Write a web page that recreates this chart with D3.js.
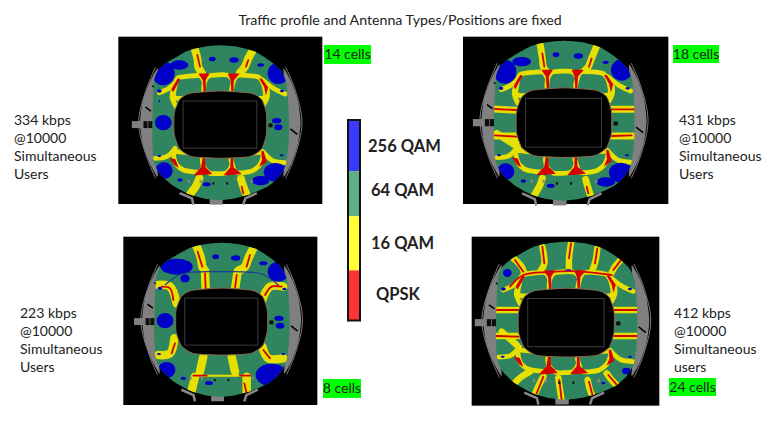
<!DOCTYPE html>
<html><head><meta charset="utf-8">
<script src="https://cdn.jsdelivr.net/npm/d3@7"></script>
<style>html,body{margin:0;background:#fff}svg{display:block}text{font-family:Lato,sans-serif;fill:#222}</style>
</head><body><svg id="c" width="780" height="434"></svg>
<script>
const titleText = "Traffic profile and Antenna Types/Positions are fixed";
const legendLabels = ["256 QAM","64 QAM","16 QAM","QPSK"];
const legendColors = ["#3a3aff","#5fae84","#ffff33","#ff3333"];
const legendEdges = [0,25.5,48,75,100];

// stadium outlines in unit coordinates (-100..100)
const fieldOutline = [[-1,-100],[25,-98],[50,-92],[72,-80],[88,-67],[96,-52],[99,-25],[100,3],[99,30],[95,55],[85,70],[70,82],[45,92],[20,98],[-1,100],[-25,98],[-48,92],[-72,80],[-90,65],[-98,50],[-100,25],[-100,0],[-99,-30],[-97,-56],[-91,-68],[-78,-78],[-48,-93],[-25,-98]];
const holeOutline = [[0,-41],[45,-38],[60,-30],[67,-12],[67,15],[60,34],[42,44],[0,46],[-42,44],[-60,34],[-68,15],[-68,-12],[-60,-30],[-45,-38]];
const pitchBox = [-55,-28,53,33];
const standLeft = [[-92,-70],[-104,-52],[-114,-28],[-118,0],[-114,28],[-104,52],[-92,70],[-95,40],[-98,0],[-95,-40]];
const standRight = [[92,-70],[104,-52],[113,-28],[117,0],[113,28],[104,52],[92,70],[95,40],[98,0],[95,-40]];
const ringLeft = [[-95,-72],[-108,-45],[-120,0],[-108,45],[-95,72]];
const ringRight = [[95,-72],[108,-45],[119,0],[108,45],[95,72]];
const tab = [-130,-2,-100,7];
const standBlocksDark = [[-113,-2,-107,7],[-106,-2,-100,7],[70,1,76,6],[-12,77,-9,80],[8,77,11,80]];
const standBlocksGrey = [[-48,74,-45,78],[-31,74,-28,78],[44,74,47,78]];
const standTicks = [[[-110,-20],[-102,-15]],[[-98,42],[-90,45]],[[102,8],[112,15]],[[-100,-48],[-96,-45]]];
const basePlate = [[-60,91],[-42,98],[-40,106]];
const basePlate2 = [[53,91],[36,98],[33,106]];
const baseBar = [-16,98,3,106];

// inner tier, shared by the panels with many cells (reference grid = 14-cell panel)
const innerCells = [
 [[205,143],[268,137],[284,160],[288,198],[196,204],[195,168]],
 [[298,137],[352,135],[370,155],[366,198],[287,198],[283,158]],
 [[385,136],[445,141],[462,168],[460,204],[368,198],[370,155]],
 [[195,365],[280,378],[284,400],[268,426],[220,420],[197,400]],
 [[282,378],[364,378],[366,404],[350,428],[300,430],[280,408]],
 [[367,378],[456,368],[450,404],[424,424],[380,428],[367,404]]];
const innerArms = [
 [[205,150],[175,176],[148,188]],[[190,178],[186,200],[197,228]],
 [[458,150],[490,175],[525,192]],[[472,180],[472,200],[462,222]],
 [[195,355],[170,380],[135,385]],
 [[458,365],[488,392],[525,398]]];
const innerRed = [
 [[266,131],[298,131],[287,150],[288,186],[281,186],[278,150]],
 [[354,131],[388,131],[372,150],[370,184],[364,184],[362,150]],
 [[203,146],[210,148],[190,186],[184,178]],
 [[448,146],[456,146],[474,172],[468,196],[462,170]],
 [[278,384],[285,384],[287,412],[306,432],[252,436],[273,412]],
 [[362,384],[369,384],[371,412],[394,432],[342,436],[361,412]],
 [[454,364],[461,364],[470,396],[448,410],[456,390]],
 [[196,388],[206,413],[194,406],[180,385]]];

// measured in each panel's own picture grid (3 units = 1 image px)
const yellow14 = [
 [[252,50],[262,85],[265,110],[275,128]],[[430,58],[415,85],[405,110],[390,128]],
 [[240,492],[258,468],[268,445]],[[412,500],[400,470],[393,447]]];
const red14 = [[[262,75],[270,110]],[[415,90],[408,110]],[[395,470],[400,490]]];
const blue14 = [[160,130,34,36],[208,105,27,14],[307,87,10,7],[372,90,14,8],[452,105,10,5],[505,130,32,32],
 [160,278,25,23],[500,272,14,8],[505,292,12,9],[162,422,26,25],[497,427,36,28],[452,452,26,14],[290,463,12,6],[210,450,8,5],[148,183,7,5],[516,183,6,4],[148,214,3,3],[148,378,6,3],[515,376,6,3]];

const yellow18 = [
 [[255,40],[262,85],[265,110],[275,125]],[[425,48],[410,85],[400,110],[385,125]],
 [[118,237],[185,241]],[[118,318],[185,318]],[[470,238],[540,238]],[[470,318],[540,318]],
 [[125,310],[180,345]],[[180,320],[190,365]],
 [[238,495],[255,465],[262,445]],[[408,500],[398,470],[392,448]]];
const red18 = [
 [[262,70],[268,110]],[[410,85],[402,110]],[[118,237],[185,240]],[[470,238],[540,238]],[[120,316],[185,320]],[[470,318],[530,316]],[[395,470],[400,490]]];
const blue18 = [[150,125,34,36],[200,95,28,14],[303,74,10,7],[370,78,14,8],[452,97,9,5],[500,120,32,32],
 [152,425,26,25],[498,428,36,30],[452,456,28,14],[287,467,12,6],[205,453,8,5],[138,175,7,5],[518,175,6,4],[132,376,6,3],[516,376,6,3]];

const yellow8 = [
 [[245,50],[258,85],[262,110],[270,122]],[[415,55],[400,85],[390,110],[370,122]],
 [[270,125],[272,178]],[[368,125],[360,178]],
 [[130,165],[165,170],[185,220]],[[505,170],[465,170],[440,215]],
 [[178,325],[165,370],[130,375]],[[442,350],[460,385],[505,385]],
 [[265,380],[255,425]],[[350,380],[360,425]],
 [[240,440],[228,490]],[[395,440],[395,495]]];
const red8 = [[[248,65],[262,110]],[[405,75],[395,110]],[[270,130],[272,175]],[[365,135],[360,175]],
 [[450,195],[470,170],[500,170]],[[175,210],[165,175],[140,170]],[[180,340],[170,370]],[[445,360],[465,385]],[[235,437],[275,437]],[[375,437],[405,437]],[[388,460],[395,490]]];
const blue8 = [[185,110,48,24],[210,145,14,12],[302,80,10,7],[362,84,14,8],[445,100,12,6],[490,125,32,30],
 [150,272,25,23],[492,265,14,8],[495,287,13,9],[155,420,26,24],[470,435,48,34],[282,459,12,6],[205,445,8,5],[135,175,7,5],[508,177,6,4],[132,372,6,3],[505,372,6,3]];
const thinBlue8 = [[[150,165],[200,132],[320,125],[440,132],[490,165]]];
const thinYellow8 = [[[240,437],[400,437]]];

const yellow24 = [
 [[145,85],[170,110],[178,130]],[[232,50],[238,100],[225,125]],[[318,40],[312,85],[312,118]],[[397,55],[392,90],[382,122]],[[472,85],[450,110],[440,128]],
 [[95,240],[160,240]],[[95,318],[160,318]],[[445,240],[515,240]],[[445,318],[515,318]],
 [[110,305],[155,345]],
 [[148,460],[170,440],[195,425]],[[210,492],[222,465],[235,440]],[[290,512],[285,480],[280,445]],[[385,505],[375,480],[368,450]],[[462,472],[440,450],[425,430]]];
const red24 = [
 [[232,50],[238,100]],[[318,40],[312,85]],[[397,55],[390,100]],[[472,85],[445,120]],[[150,90],[175,125]],
 [[135,170],[175,135],[250,126],[342,124],[440,135]],
 [[95,240],[160,240]],[[445,240],[515,240]],[[95,318],[160,320]],[[445,318],[515,318]],
 [[215,490],[235,440]],[[290,510],[283,450]],[[385,505],[372,455]],[[460,470],[430,435]]];
const blue24 = [[127,129,13,12],[115,177,7,5],[495,177,6,4],[113,380,6,3],[495,380,6,3],[484,423,13,10],[415,459,6,4],[310,120,10,2]];

const cellPanels = [
 {label:"14 cells",info:["334 kbps","@10000","Simultaneous","Users"],ox:110,oy:30,box:[25,20,637,522],c:[332,278,205,232],yellow:yellow14,red:red14,blue:blue14,tier:true,bw:8,tag:[324,45,47,19],ix:14,iy:120},
 {label:"18 cells",info:["431 kbps","@10000","Simultaneous","Users"],ox:455,oy:30,box:[24,20,640,522],c:[328,272,211,240],yellow:yellow18,red:red18,blue:blue18,tier:true,bw:7,tag:[673,45,46,18],ix:679,iy:120},
 {label:"8 cells",info:["223 kbps","@10000","Simultaneous","Users"],ox:115,oy:230,box:[25,20,607,525],c:[321,269,203,231],yellow:yellow8,red:red8,blue:blue8,tier:false,bw:8.5,thinB:thinBlue8,thinY:thinYellow8,tag:[323,379,38,19],ix:20,iy:313},
 {label:"24 cells",info:["412 kbps","@10000","Simultaneous","users"],ox:465,oy:230,box:[20,20,583,527],c:[305,272,212,237],yellow:yellow24,red:red24,blue:blue24,tier:true,bw:6.5,tag:[669,378,47,18],ix:674,iy:313}
];

const svg = d3.select("#c");
const defs = svg.append("defs");
defs.append("filter").attr("id","soft").append("feGaussianBlur").attr("stdDeviation",0.45);

svg.append("text").attr("x",400).attr("y",25).attr("text-anchor","middle").style("font-size","14.2px").text(titleText);

cellPanels.forEach((p,i)=>{
  const gx = d3.scaleLinear([0,810],[p.ox,p.ox+270]);
  const gy = d3.scaleLinear([0,540],[p.oy,p.oy+180]);
  const ux = d3.scaleLinear([-100,100],[gx(p.c[0]-p.c[2]),gx(p.c[0]+p.c[2])]);
  const uy = d3.scaleLinear([-100,100],[gy(p.c[1]-p.c[3]),gy(p.c[1]+p.c[3])]);
  const tx = d3.scaleLinear([127,537],[gx(p.c[0]-p.c[2]),gx(p.c[0]+p.c[2])]);
  const ty = d3.scaleLinear([46,510],[gy(p.c[1]-p.c[3]),gy(p.c[1]+p.c[3])]);
  const closed = d3.line().x(d=>ux(d[0])).y(d=>uy(d[1])).curve(d3.curveCardinalClosed.tension(0.4));
  const open = d3.line().x(d=>ux(d[0])).y(d=>uy(d[1]));
  const arc = d3.line().x(d=>ux(d[0])).y(d=>uy(d[1])).curve(d3.curveCatmullRom);
  const shape = d3.line().x(d=>tx(d[0])).y(d=>ty(d[1])).curve(d3.curveCardinalClosed.tension(0.35));
  const spike = d3.line().x(d=>tx(d[0])).y(d=>ty(d[1])).curve(d3.curveCardinalClosed.tension(0.8));
  const arm = d3.line().x(d=>tx(d[0])).y(d=>ty(d[1])).curve(d3.curveCatmullRom);
  const band = d3.line().x(d=>gx(d[0])).y(d=>gy(d[1])).curve(d3.curveCatmullRom);
  const box = (sel,b,fill)=>sel.append("rect").attr("x",ux(b[0])).attr("y",uy(b[1])).attr("width",ux(b[2])-ux(b[0])).attr("height",uy(b[3])-uy(b[1])).attr("fill",fill);
  const g = svg.append("g").attr("filter","url(#soft)");
  g.append("rect").attr("x",gx(p.box[0])).attr("y",gy(p.box[1])).attr("width",gx(p.box[2])-gx(p.box[0])).attr("height",gy(p.box[3])-gy(p.box[1])).attr("fill","#000");
  // stands
  [standLeft,standRight].forEach(s=>g.append("path").attr("d",closed(s)).attr("fill","#808080"));
  [ringLeft,ringRight].forEach(s=>g.append("path").attr("d",arc(s)).attr("fill","none").attr("stroke","#7c7c7c").attr("stroke-width",1));
  standTicks.forEach(s=>g.append("path").attr("d",open(s)).attr("stroke","#000").attr("stroke-width",1.6));
  [basePlate,basePlate2].forEach(s=>g.append("path").attr("d",open(s)).attr("fill","none").attr("stroke","#8a8a8a").attr("stroke-width",2.5));
  box(g,baseBar,"#808080");
  box(g,tab,"#808080");
  // field
  const clipId = "clip"+i;
  defs.append("clipPath").attr("id",clipId).append("path").attr("d",closed(fieldOutline));
  g.append("path").attr("d",closed(fieldOutline)).attr("fill","#2f8560");
  const f = g.append("g").attr("clip-path",`url(#${clipId})`);
  f.selectAll(".y").data(p.yellow).join("path").attr("d",band).attr("fill","none").attr("stroke","#e6e000").attr("stroke-width",p.bw).attr("stroke-linecap","round");
  if(p.tier){
    innerArms.forEach(s=>f.append("path").attr("d",arm(s)).attr("fill","none").attr("stroke","#e6e000").attr("stroke-width",4.8).attr("stroke-linecap","round"));
    innerCells.forEach(s=>f.append("path").attr("d",shape(s)).attr("fill","#2f8560").attr("stroke","#e6e000").attr("stroke-width",4.8));
    innerRed.forEach(s=>f.append("path").attr("d",spike(s)).attr("fill","#d50000"));
  }
  if(p.thinY) p.thinY.forEach(s=>f.append("path").attr("d",band(s)).attr("fill","none").attr("stroke","#e6e000").attr("stroke-width",2));
  f.selectAll(".r").data(p.red).join("path").attr("d",band).attr("fill","none").attr("stroke","#d50000").attr("stroke-width",1.8).attr("stroke-linecap","round");
  f.selectAll(".b").data(p.blue).join("ellipse").attr("cx",d=>gx(d[0])).attr("cy",d=>gy(d[1])).attr("rx",d=>d[2]/3).attr("ry",d=>d[3]/3).attr("fill","#0000c8");
  if(p.thinB) p.thinB.forEach(s=>f.append("path").attr("d",band(s)).attr("fill","none").attr("stroke","#1c3c90").attr("stroke-width",1.2));
  standBlocksGrey.forEach(b=>box(g,b,"#8a8a8a"));
  standBlocksDark.forEach(b=>box(g,b,"#111"));
  // bowl
  g.append("path").attr("d",closed(holeOutline)).attr("fill","#000").attr("stroke","#8a6a50").attr("stroke-width",1);
  g.append("rect").attr("x",ux(pitchBox[0])).attr("y",uy(pitchBox[1])).attr("width",ux(pitchBox[2])-ux(pitchBox[0])).attr("height",uy(pitchBox[3])-uy(pitchBox[1])).attr("fill","none").attr("stroke","#4a4a4a").attr("stroke-width",0.8);
  // labels
  svg.append("rect").attr("x",p.tag[0]).attr("y",p.tag[1]).attr("width",p.tag[2]).attr("height",p.tag[3]).attr("fill","#00ff00");
  svg.append("text").attr("x",p.tag[0]+p.tag[2]/2).attr("y",p.tag[1]+p.tag[3]/2+4.8).attr("text-anchor","middle").style("font-size","14px").text(p.label);
  svg.append("g").selectAll("text").data(p.info).join("text").attr("x",p.ix).attr("y",(d,j)=>p.iy+4.8+j*18.2).style("font-size","14px").text(d=>d);
});

// legend
const ly = d3.scaleLinear([0,100],[120,320.5]);
const leg = svg.append("g");
leg.selectAll("rect").data(legendLabels).join("rect").attr("x",348).attr("width",12).attr("y",(d,i)=>ly(legendEdges[i])).attr("height",(d,i)=>ly(legendEdges[i+1])-ly(legendEdges[i])).attr("fill",(d,i)=>legendColors[i]);
leg.append("rect").attr("x",348).attr("y",ly(0)).attr("width",12).attr("height",ly(100)-ly(0)).attr("fill","none").attr("stroke","#111").attr("stroke-width",2);
const labelX = [368,371,371,376];
leg.selectAll("text").data(legendLabels).join("text").attr("x",(d,i)=>labelX[i]).attr("y",(d,i)=>[152,196,249,300][i]).style("font-size","16.5px").style("font-weight","700").text(d=>d);
</script></body></html>
